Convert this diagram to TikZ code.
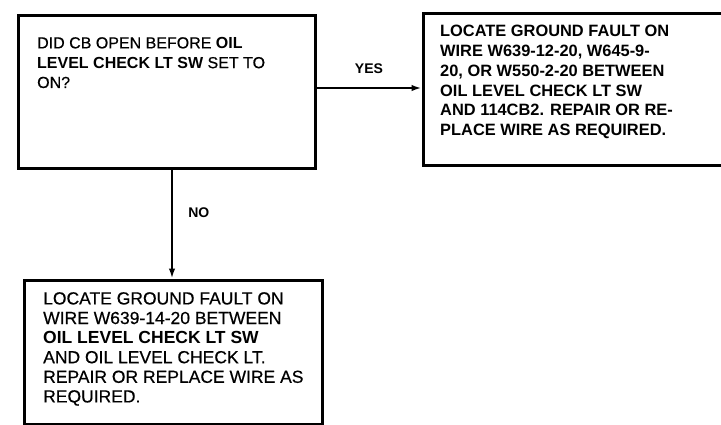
\documentclass[tikz,border=0pt]{standalone}
\usepackage{fontspec}
\setmainfont{Liberation Sans}[UprightFeatures={FakeBold=0.5}]
\usetikzlibrary{arrows.meta}
\begin{document}
\begin{tikzpicture}[x=1pt,y=1pt,
    stepbox/.style={draw,line width=3pt,inner sep=0pt},
    boxtext/.style={anchor=north west,inner sep=0pt,align=left,
      font=\fontsize{16}{19.8}\selectfont},
    flowlabel/.style={font=\fontsize{14}{16}\selectfont\bfseries},
    flowarrow/.style={line width=2pt,-{Latex[length=10pt,width=6.5pt]}}]
    \useasboundingbox (0,0) rectangle (721,-424);

    \node[stepbox,minimum width=297,minimum height=153] (ask) at (166.5,-91.5) {};
    \node[boxtext] (asktext) at (37,-37) {DID CB OPEN BEFORE \textbf{OIL}\\
      \textbf{LEVEL CHECK LT SW} SET TO\\
      ON?};

    \node[stepbox,minimum width=302,minimum height=152] (yesfix) at (574,-89) {};
    \node[boxtext,font=\fontsize{16.4}{19.8}\selectfont] (yestext) at (440,-25) {\textbf{LOCATE GROUND FAULT ON}\\
      \textbf{WIRE W639-12-20, W645-9-}\\
      \textbf{20, OR W550-2-20 BETWEEN}\\
      \textbf{OIL LEVEL CHECK LT SW}\\
      \textbf{AND 114CB2. REPAIR OR RE-}\\
      \textbf{PLACE WIRE AS REQUIRED.}};

    \node[stepbox,minimum width=298,minimum height=144] (nofix) at (173,-352) {};
    \node[boxtext,font=\fontsize{17.5}{19.6}\selectfont] (notext) at (43,-292) {LOCATE GROUND FAULT ON\\
      WIRE W639-14-20 BETWEEN\\
      \textbf{OIL LEVEL CHECK LT SW}\\
      AND OIL LEVEL CHECK LT.\\
      REPAIR OR REPLACE WIRE AS\\
      REQUIRED.};

    \draw[flowarrow] (ask.east |- 0,-88) -- node[flowlabel,above=10pt] (yes) {YES} (yesfix.west |- 0,-88);
    \draw[flowarrow] (ask.south -| 172,0) -- node[flowlabel,right=12pt,pos=0.4] (no) {NO} (nofix.north -| 172,0);
\end{tikzpicture}
\end{document}
